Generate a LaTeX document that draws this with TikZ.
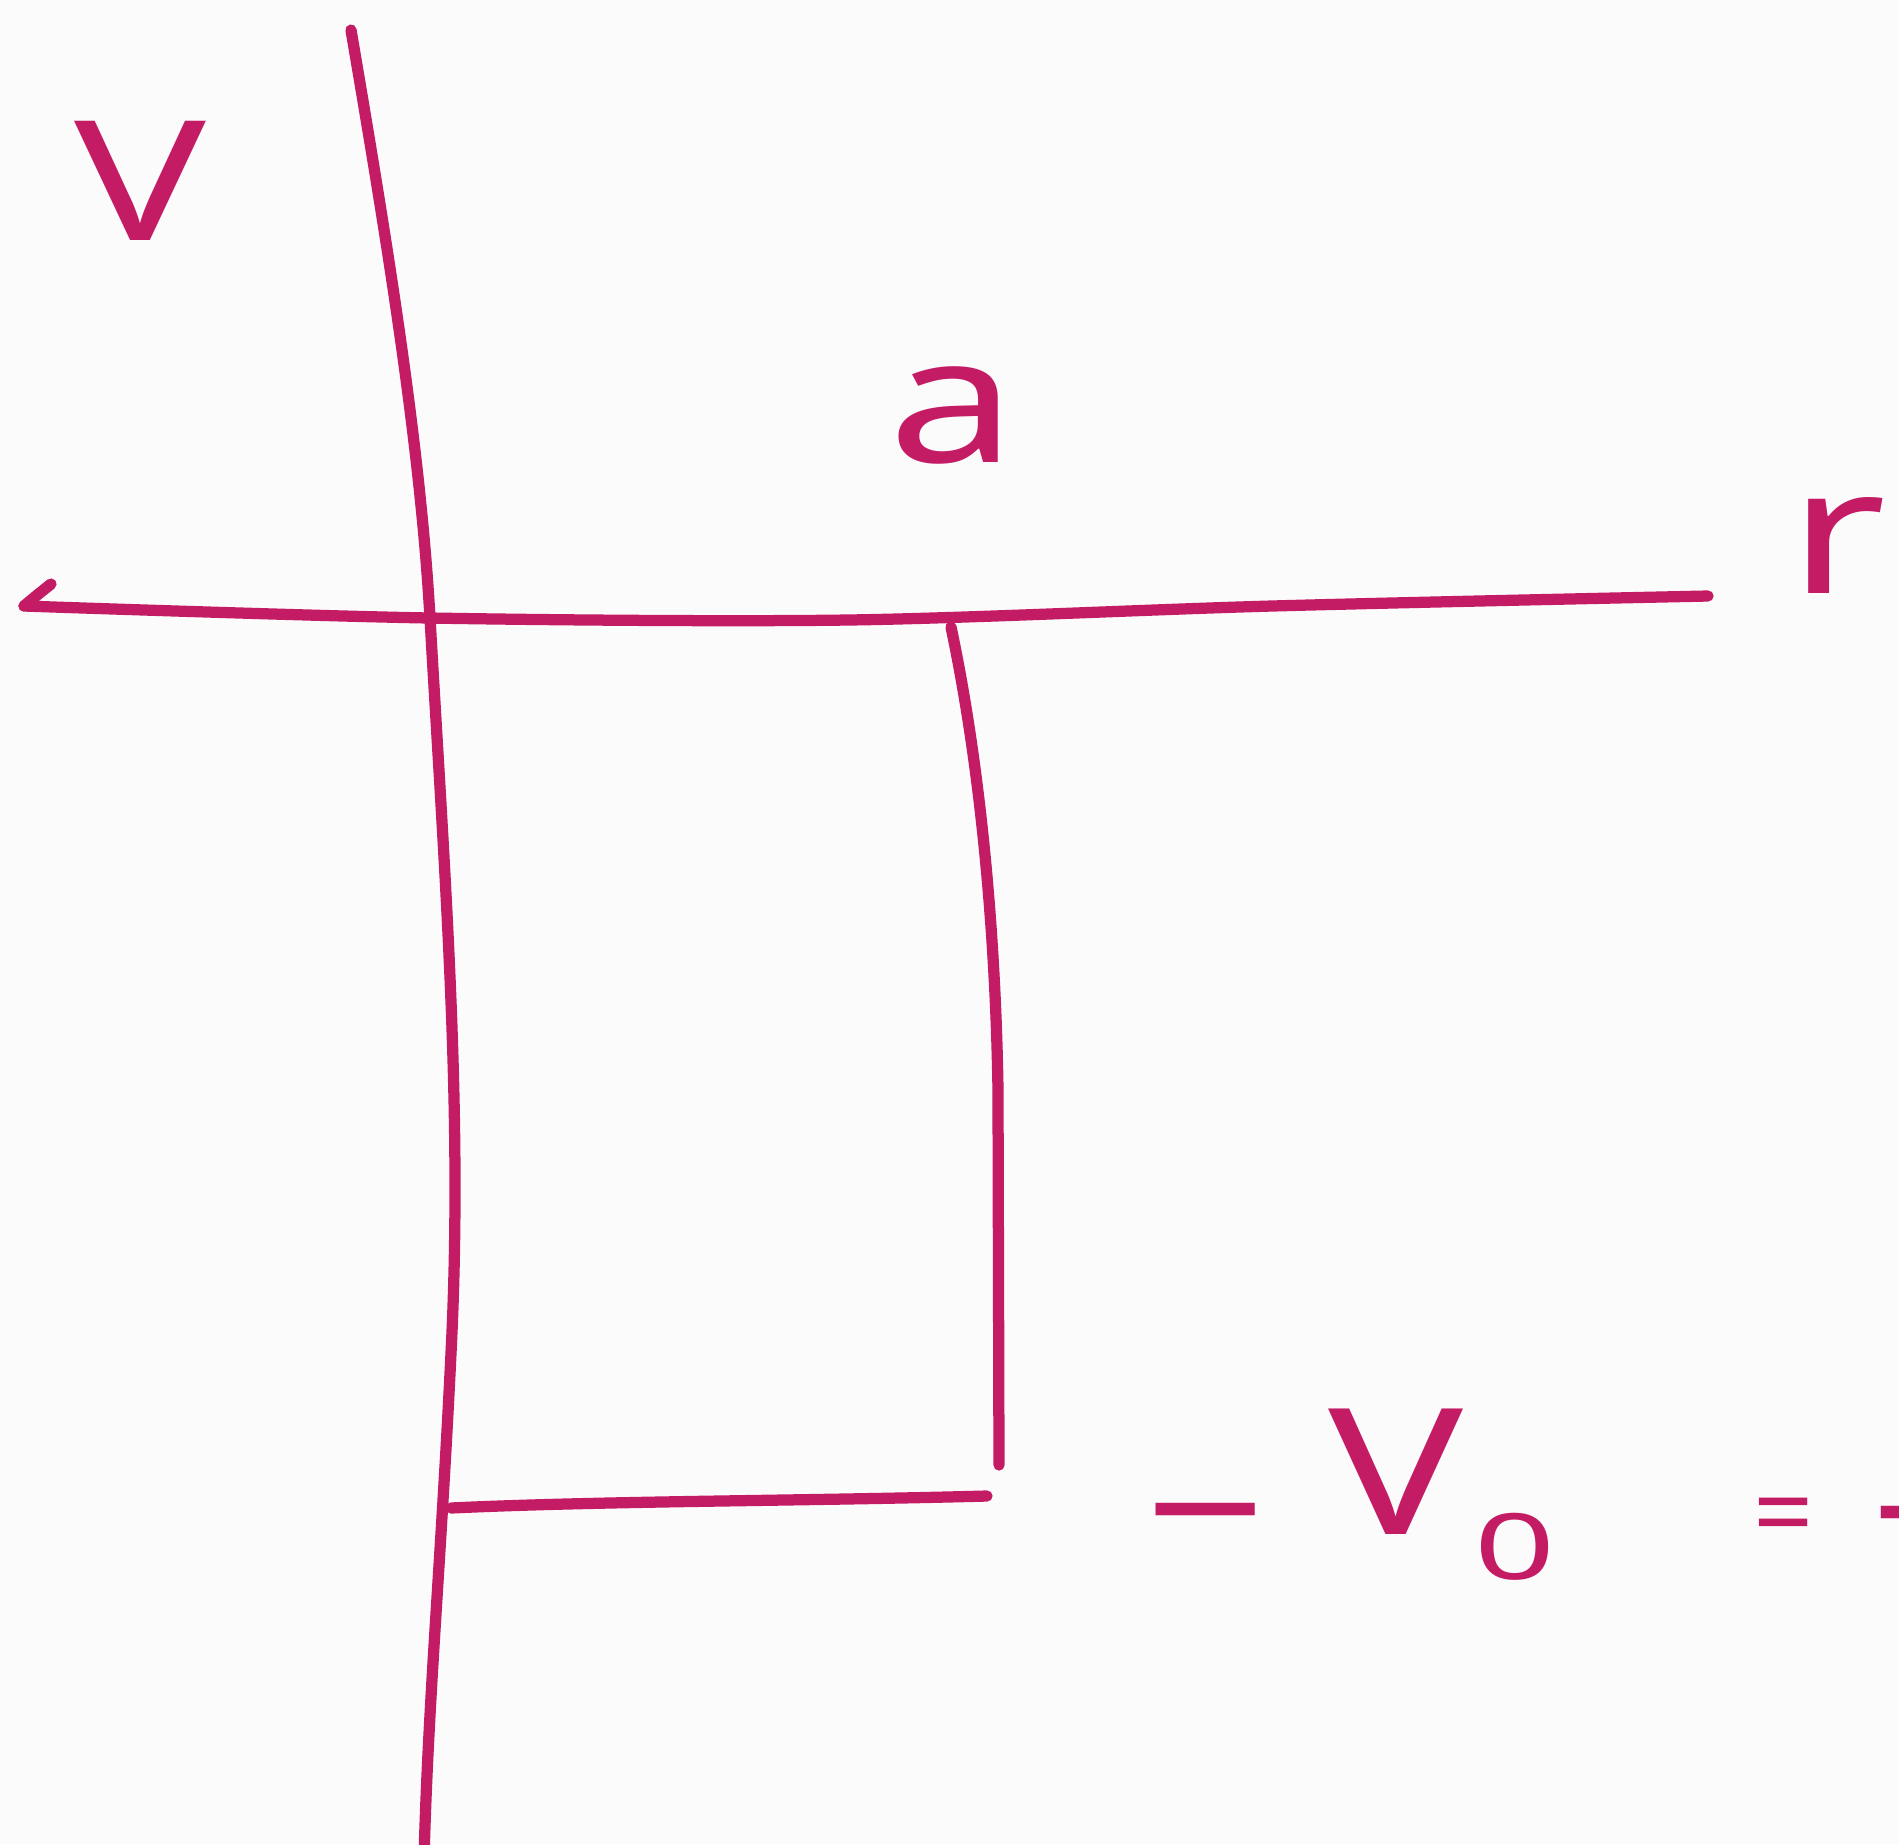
\documentclass[tikz,border=0pt]{standalone}
\usepackage{fontspec}
\setmainfont{Noto Sans}
\definecolor{ink}{RGB}{196,28,100}
\definecolor{paper}{RGB}{252,251,252}
\begin{document}
\begin{tikzpicture}[x=0.01cm,y=-0.01cm,
  stroke/.style={draw=ink,line width=3.2pt,line cap=round,line join=round},
  hand/.style={text=ink,inner sep=0pt,font=\fontsize{50}{60}\selectfont}]
\fill[paper] (0,0) rectangle (1899,1844);
\useasboundingbox (0,0) rectangle (1899,1844);
% vertical axis
\draw[stroke] (351,30) .. controls (385,230) and (420,440) .. (430,618)
  .. controls (445,880) and (462,1100) .. (452,1332)
  .. controls (442,1550) and (428,1700) .. (424,1860);
% horizontal axis with hand-drawn arrow barb
\draw[stroke] (51,584) .. controls (36,596) .. (24,606);
\draw[stroke] plot[smooth,tension=0.5] coordinates {(24,606) (430,618) (848,620) (1272,606) (1708,596)};
% right wall
\draw[stroke] (951,627) .. controls (975,740) and (995,900) .. (998,1090) -- (999,1465);
% well bottom
\draw[stroke] (451,1508) .. controls (600,1501) and (800,1501) .. (987,1496);
% labels
\node[hand] (vlabel) at (140,181) {\scalebox{1.25}[0.95]{V}};
\node[hand] (alabel) at (953,415) {\scalebox{1.3}[1]{a}};
\node[hand] (rlabel) at (1838,545) {\scalebox{1.35}[1]{r}};
\node[hand] (minusA) at (1206,1537) {\scalebox{1.2}[1]{−}};
\node[hand,anchor=base west] (vzero) at (1328,1534) {\scalebox{1.28}[1]{V}\hspace{3pt}\raisebox{-13pt}{\fontsize{26}{30}\selectfont\scalebox{1.55}[1]{0}}};
\node[hand,font=\fontsize{30}{34}\selectfont] (eq) at (1784,1524) {=};
\node[hand,anchor=west] (minusB) at (1872,1540) {−};
\end{tikzpicture}
\end{document}
